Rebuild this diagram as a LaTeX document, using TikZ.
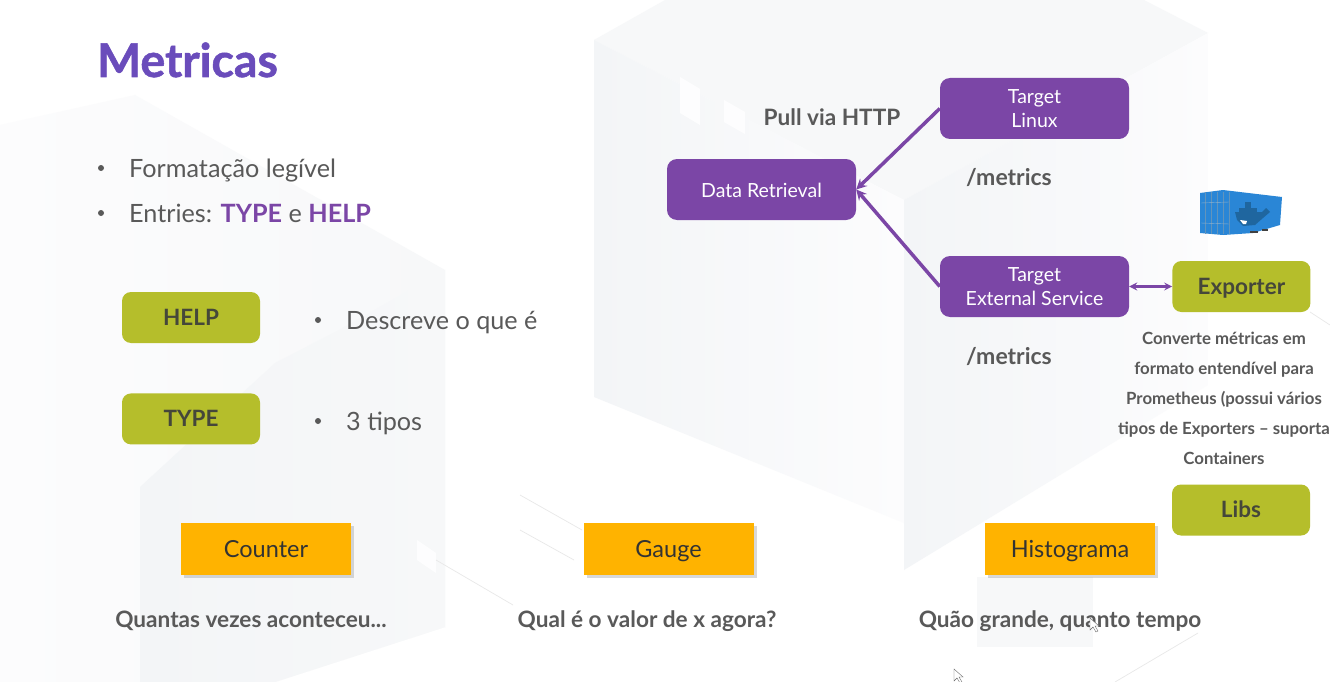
\documentclass[tikz,border=0pt]{standalone}
\usepackage{fontspec}
\setmainfont{Lato}
\newfontfamily\titlefont{Lato}[BoldFeatures={FakeBold=1.2}]
\usetikzlibrary{positioning,shadows}
\definecolor{titlepurple}{HTML}{6A4CBB}
\definecolor{boxpurple}{HTML}{7B46A6}
\definecolor{boxolive}{HTML}{B5BE2B}
\definecolor{boxorange}{HTML}{FFB300}
\definecolor{textgray}{HTML}{595959}
\definecolor{oliveink}{HTML}{45473A}
\definecolor{panelfade}{HTML}{FCFCFD}
\definecolor{panelgray}{HTML}{F7F8F9}
\definecolor{paneldark}{HTML}{F3F5F7}
\definecolor{dockerblue}{HTML}{2A86D6}
\definecolor{dockerdark}{HTML}{1F669F}
\newcommand{\fsz}[1]{\fontsize{#1}{#1}\selectfont}
\tikzset{
	purplebox/.style={rectangle, rounded corners=10pt, fill=boxpurple, text=white, minimum width=189pt, minimum height=61pt, align=center, execute at begin node=\rule{0pt}{17pt}, font=\fsz{19.5}},
	olivebox/.style={rectangle, rounded corners=9pt, fill=boxolive, text=oliveink, minimum width=138pt, minimum height=51pt, text height=19pt, text depth=3.4pt, font=\fsz{22.5}\bfseries},
	orangebox/.style={rectangle, fill=boxorange, text=black!80, minimum width=170pt, minimum height=52pt, text height=20pt, text depth=3.5pt, font=\fsz{23.5}, drop shadow={shadow xshift=3pt, shadow yshift=-3pt, opacity=.3}},
	plaintext/.style={text=textgray, anchor=base west, inner sep=0pt, font=\fsz{25.2}},
	boldtext/.style={text=textgray, font=\fsz{22.6}\bfseries},
	pathtext/.style={text=textgray, font=\fsz{23}\bfseries},
	bulletdot/.style={circle, fill=textgray, inner sep=0pt, minimum size=6pt},
	thinline/.style={black!9, line width=.7pt},
	smudge/.style={white, opacity=.85},
}
\begin{document}
\begin{tikzpicture}[x=1pt, y=-1pt, node distance=50pt]
	\useasboundingbox (0,0) rectangle (1330,682);
	% background
	\fill[white] (0,0) rectangle (1330,682);
	\shade[left color=panelfade, right color=panelgray] (0,125) -- (135,95) -- (445,270) -- (445,627) -- (275,682) -- (0,682) -- cycle;
	\shade[left color=paneldark, right color=panelgray] (140,487) -- (275,363) -- (339,330) -- (445,270) -- (445,627) -- (275,682) -- (140,682) -- cycle;
	\fill[panelgray] (594,40) -- (665,0) -- (1144,0) -- (1208,33) -- (904,200) -- cycle;
	\shade[left color=paneldark, right color=panelfade] (594,40) -- (904,200) -- (904,523) -- (594,397) -- cycle;
	\shade[left color=paneldark, right color=panelfade] (904,200) -- (1208,33) -- (1208,385) -- (904,570) -- cycle;
	\fill[panelgray] (977,577) rectangle (1093,647);
	\fill[smudge] (680,77) -- (700,89) -- (700,125) -- (680,113) -- cycle;
	\fill[smudge] (724,100) -- (745,112) -- (745,134) -- (724,122) -- cycle;
	\fill[smudge] (417,540) -- (436,553) -- (436,573) -- (417,560) -- cycle;
	\draw[thinline] (520,495) -- (582,530);
	\draw[thinline] (520,530) -- (574,560);
	\draw[thinline] (436,560) -- (513,605);
	\draw[thinline] (1310,312) -- (1330,325);
	\draw[thinline] (1115,682) -- (1198,633);

	% title and bullets
	\node[text=titlepurple, font=\fsz{46.5}\titlefont\bfseries, anchor=base west, inner sep=0pt] (title) at (97,77) {Metricas};
	\node[bulletdot] (dota) at (101,168) {};
	\node[plaintext] (formato) at (129,177) {Formatação legível};
	\node[bulletdot] (dotb) at (101,213) {};
	\node[plaintext] (entries) at (129,222) {Entries: \textcolor{boxpurple}{\bfseries TYPE} e \textcolor{boxpurple}{\bfseries HELP}};

	% help and type
	\node[olivebox] (help) at (191,317.5) {HELP};
	\node[olivebox, below = of help] (type) {TYPE};
	\node[bulletdot] (dotc) at (318,320) {};
	\node[plaintext] (descreve) at (346,329) {Descreve o que é};
	\node[bulletdot] (dotd) at (318,421) {};
	\node[plaintext] (tipos) at (346,430) {3 tipos};

	% metric kinds
	\node[orangebox] (counter) at (266,549) {Counter};
	\node[orangebox] (gauge) at (668.5,549) {Gauge};
	\node[orangebox] (histo) at (1070,549) {Histograma};
	\node[boldtext] (quantas) at (251,621) {Quantas vezes aconteceu...};
	\node[boldtext] (qual) at (647,621) {Qual é o valor de x agora?};
	\node[boldtext] (quao) at (1060,621) {Quão grande, quanto tempo};

	% pull model
	\node[purplebox] (retrieval) at (761.5,189.5) {Data Retrieval};
	\node[purplebox] (linux) at (1034.5,108.5) {Target\\[4pt]Linux};
	\node[purplebox] (external) at (1034.5,286.5) {Target\\[4pt]External Service};
	\node[olivebox, right = 43pt of external] (exporter) {Exporter};
	\node[olivebox] (libs) at (1241,510) {Libs};
	\node[boldtext] (pull) at (832,117) {Pull via HTTP};
	\node[pathtext] (metricsa) at (1009,178) {/metrics};
	\node[pathtext] (metricsb) at (1009,356) {/metrics};
	\node[text=textgray, font=\fontsize{16.8}{30}\selectfont\bfseries, align=center, inner sep=0pt] (converte) at (1224,398) {Converte métricas em\\formato entendível para\\Prometheus (possui vários\\tipos de Exporters -- suporta\\Containers};

	\draw[-stealth, line width=3.5pt, boxpurple] (linux.west) -- (retrieval.east);
	\draw[-stealth, line width=3.5pt, boxpurple] (external.west) -- (retrieval.east);
	\draw[stealth-stealth, line width=2.5pt, boxpurple] (external) -- (exporter);

	% container
	\fill[dockerblue] (1200,193) -- (1223,190) -- (1282,197) -- (1280,225) -- (1253,233) -- (1223,235) -- (1200,233) -- cycle;
	\foreach \bx in {1205,1211,1217,1223,1229}
		\draw[dockerdark!70, line width=.5pt] (\bx,192) -- (\bx,234);
	\draw[dockerdark!50, line width=.4pt] (1201,203) -- (1229,202);
	\draw[dockerdark!50, line width=.4pt] (1201,223) -- (1229,224);
	\fill[dockerdark] (1235,212) -- (1262,212) -- (1266,208) -- (1270,212) -- (1263,218) -- (1255,225) -- (1243,226) -- (1237,220) -- cycle;
	\fill[dockerdark] (1239,208) rectangle (1257,212);
	\fill[dockerdark] (1245,202) rectangle (1251,208);
	\fill[white] (1240,220) -- (1247,221) -- (1246,224) -- (1243,224) -- cycle;
	\fill[black!75] (1250,231) rectangle (1258,233);
	\fill[black!75] (1262,229) rectangle (1268,231);

	% cursors
	\foreach \cx/\cy in {1090/618, 954/669}
		\draw[black!60, fill=white] (\cx,\cy) -- ++(0,12) -- ++(3,-3) -- ++(3,5) -- ++(2,-1) -- ++(-3,-5) -- ++(4,0) -- cycle;
\end{tikzpicture}
\end{document}
